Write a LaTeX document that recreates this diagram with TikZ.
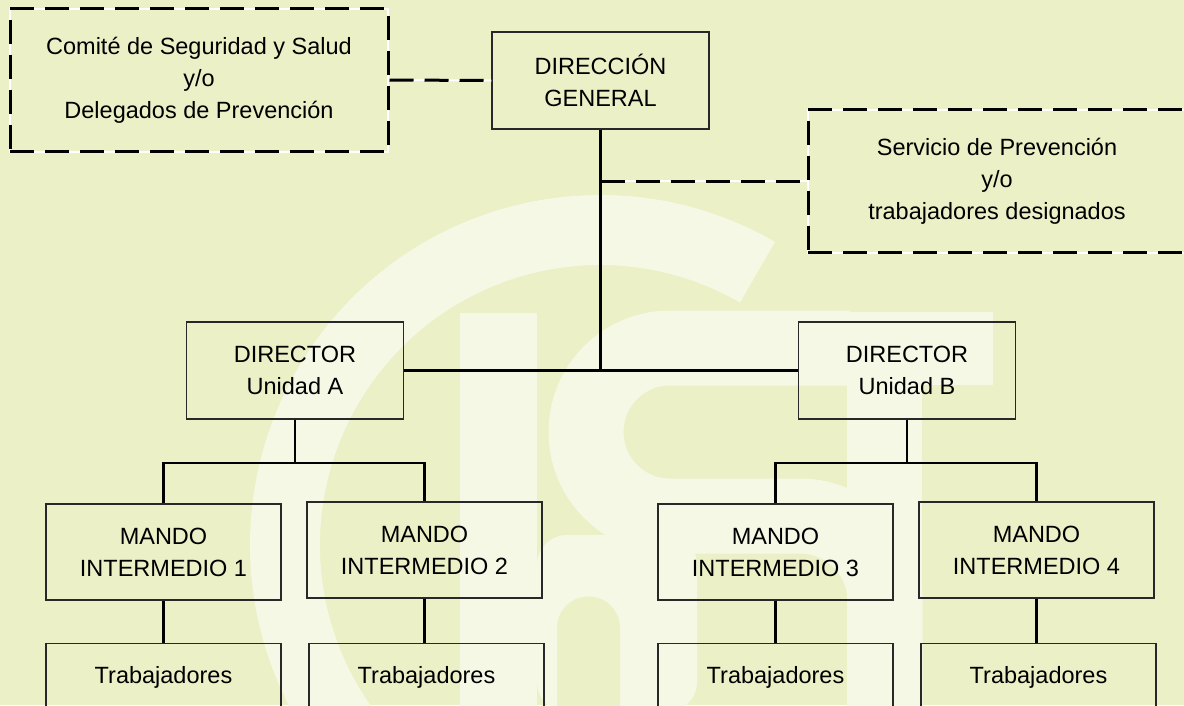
\documentclass[tikz,border=0pt]{standalone}
\usepackage{fontspec}
\setmainfont{Liberation Sans}
\definecolor{fondo}{RGB}{236,240,198}
\definecolor{marca}{RGB}{246,248,230}
\definecolor{borde}{RGB}{40,40,40}

\begin{document}
\begin{tikzpicture}[x=1pt, y=-1pt,
	caja/.style={draw=borde, line width=1.2pt, align=center, inner sep=0pt, font=\fontsize{23.5}{32}\selectfont},
	jefe/.style={caja, minimum width=217pt, minimum height=97pt},
	mando/.style={caja, minimum width=235pt, minimum height=96pt},
	trab/.style={caja, anchor=north, minimum width=235pt, minimum height=68pt, text depth=6pt},
	discont/.style={draw=black, line width=3pt, dash pattern=on 24pt off 11pt, preaction={draw=white, line width=2pt, solid}},
	apoyo/.style={caja, discont, minimum width=378pt, minimum height=143pt},
	linea/.style={line width=2.5pt}]
	\useasboundingbox (0,0) rectangle (1184,705);
	\fill[fondo] (0,0) rectangle (1184,705);
	% marca de agua
	\begin{scope}
	\clip (0,0) rectangle (1184,705);
	\fill[marca] ([shift={(-60:350)}]600,545) arc[start angle=-60, end angle=-250, radius=350]
		-- ([shift={(-250:280)}]600,545) arc[start angle=-250, end angle=-60, radius=280] -- cycle;
	\fill[marca] (460,313) rectangle (537,712);
	\fill[marca] (660,312) rectangle (993,385);
	\fill[marca] (847,312) rectangle (922,712);
	\fill[marca, rounded corners=30pt] (537,712) -- (537,535) -- (697,535) -- (697,712) -- cycle;
	\fill[fondo] (557,712) -- (557,628) arc[start angle=180, end angle=360, radius=31.5] -- (620,712) -- cycle;
	\draw[marca, line width=75pt] (850,348) -- (670,348) arc[start angle=-90, end angle=-270, radius=84]
		-- (800,516) arc[start angle=-90, end angle=0, radius=85] -- (885,712);
	\end{scope}
	% cajas
	\node[apoyo] (comite) at (199,80) {Comité de Seguridad y Salud\\y/o\\Delegados de Prevención};
	\node[jefe] (dg) at (600.5,80.5) {DIRECCIÓN\\GENERAL};
	\node[apoyo] (serv) at (997,181) {Servicio de Prevención\\y/o\\trabajadores designados};
	\node[jefe] (dira) at (295,370.5) {DIRECTOR\\Unidad A};
	\node[jefe] (dirb) at (907,370.5) {DIRECTOR\\Unidad B};
	\node[mando] (m1) at (163.5,552) {MANDO\\INTERMEDIO 1};
	\node[mando] (m2) at (424.5,550) {MANDO\\INTERMEDIO 2};
	\node[mando] (m3) at (775.5,552) {MANDO\\INTERMEDIO 3};
	\node[mando] (m4) at (1036.5,550) {MANDO\\INTERMEDIO 4};
	\node[trab] (t1) at (163.5,643) {Trabajadores};
	\node[trab] (t2) at (426.5,643) {Trabajadores};
	\node[trab] (t3) at (775.5,643) {Trabajadores};
	\node[trab] (t4) at (1038.5,643) {Trabajadores};
	% lineas
	\coordinate (cruce) at (dg.south |- dira.east);
	\coordinate (toma) at (dg.south |- serv.west);
	\coordinate (ra) at (295,463);
	\coordinate (rb) at (907,463);
	\draw[discont] (comite.east) -- (dg.west);
	\draw[discont] (toma) -- (serv.west);
	\draw[linea] (dg.south) -- (cruce);
	\draw[linea] (dira.east) -- (dirb.west);
	\draw[linea] (dira.south) -- (ra);
	\draw[linea] (m1.north) |- (ra) -| (m2.north);
	\draw[linea] (dirb.south) -- (rb);
	\draw[linea] (m3.north) |- (rb) -| (m4.north);
	\draw[linea] (m1.south) -- (t1.north);
	\draw[linea] (m2.south) -- (m2.south |- t2.north);
	\draw[linea] (m3.south) -- (t3.north);
	\draw[linea] (m4.south) -- (m4.south |- t4.north);
\end{tikzpicture}
\end{document}
